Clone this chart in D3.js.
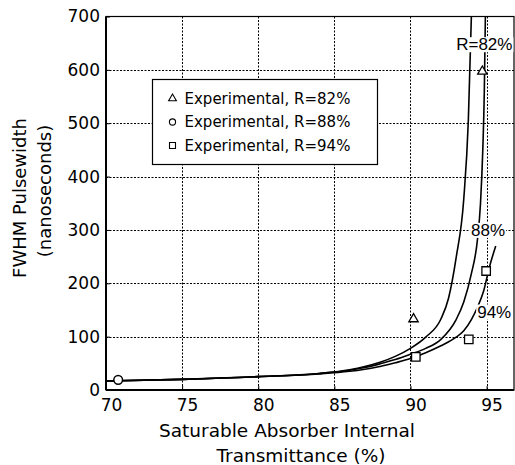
<!DOCTYPE html>
<html>
<head>
<meta charset="utf-8">
<script src="https://cdn.jsdelivr.net/npm/d3@7"></script>
<style>
  body { margin: 0; background: #fff; }
  svg text { font-family: "DejaVu Sans", sans-serif; fill: #000; }
</style>
</head>
<body>
<div id="chart"></div>
<script>

// tick values
let xTicks = [70, 75, 80, 85, 90, 95];
let yTicks = [0, 100, 200, 300, 400, 500, 600, 700];

// model curves
let curve82X = [70, 75, 80, 84, 86, 87, 88, 89, 90, 91, 92, 92.5, 93, 93.5, 93.8, 94.0];
let curve82Y = [17, 20, 25, 31, 38, 44, 52, 63, 78, 99, 133, 172, 248, 358, 505, 700];

let curve88X = [70, 75, 80, 84, 86, 87, 88, 89, 90, 91, 92, 93, 93.5, 94, 94.4, 94.6, 94.75, 94.85, 94.92];
let curve88Y = [17, 20, 25, 31, 37, 42, 49, 57, 67, 78, 95, 132, 165, 218, 282, 350, 450, 560, 700];

let curve94X = [70, 75, 80, 84, 86, 87, 88, 89, 90, 91, 92, 93, 93.5, 94, 94.4, 94.8, 95.2, 95.6];
let curve94Y = [17, 20, 25, 30, 35, 39, 44, 51, 59, 70, 83, 99, 111, 132, 155, 185, 232, 270];

// experimental points
let exp82X = [90.2, 94.72];
let exp82Y = [133, 597];
let exp88X = [70.8];
let exp88Y = [19];
let exp94X = [90.35, 93.83, 94.97];
let exp94Y = [62, 95, 223];

let legendLabels = ["Experimental, R=82%", "Experimental, R=88%", "Experimental, R=94%"];

let svg = d3.select("#chart").append("svg")
    .attr("width", 515)
    .attr("height", 465);

let x = d3.scaleLinear().domain([70, 96.8]).range([106, 514]);
let y = d3.scaleLinear().domain([0, 700]).range([390, 16.5]);

// gridlines (dotted)
let grid = svg.append("g").attr("class", "grid");
grid.selectAll(".vgrid")
    .data(xTicks.slice(1))
    .enter().append("line")
    .attr("x1", d => Math.round(x(d)) + 0.5)
    .attr("x2", d => Math.round(x(d)) + 0.5)
    .attr("y1", y(700))
    .attr("y2", y(0));
grid.selectAll(".hgrid")
    .data(yTicks.slice(1, -1))
    .enter().append("line")
    .attr("x1", x(70))
    .attr("x2", x(96.8))
    .attr("y1", d => Math.round(y(d)) + 0.5)
    .attr("y2", d => Math.round(y(d)) + 0.5);
grid.selectAll("line")
    .attr("stroke", "#000")
    .attr("stroke-width", 1)
    .attr("stroke-dasharray", "2,1.5");

// frame
svg.append("rect")
    .attr("x", 106).attr("y", 16.5)
    .attr("width", 514 - 106).attr("height", 390 - 16.5)
    .attr("fill", "none").attr("stroke", "#000").attr("stroke-width", 1.2);
svg.append("line").attr("x1", 106).attr("x2", 106).attr("y1", 16.5).attr("y2", 390)
    .attr("stroke", "#000").attr("stroke-width", 2);
svg.append("line").attr("x1", 106).attr("x2", 514).attr("y1", 390).attr("y2", 390)
    .attr("stroke", "#000").attr("stroke-width", 2);

// axes
let xAxis = svg.append("g")
    .attr("transform", "translate(0,390)")
    .call(d3.axisBottom(x).tickValues(xTicks).tickSize(-4).tickPadding(9));
xAxis.select(".domain").remove();
xAxis.selectAll("text").attr("dx", 5).style("font-size", "17px");

let yAxis = svg.append("g")
    .attr("transform", "translate(106,0)")
    .call(d3.axisLeft(y).tickValues(yTicks).tickSize(-4).tickPadding(6));
yAxis.select(".domain").remove();
yAxis.selectAll("text").style("font-size", "17px");
yAxis.selectAll("line").attr("stroke", "#000");
xAxis.selectAll("line").attr("stroke", "#000");

// model curves
let line = d3.line()
    .x(d => x(d[0]))
    .y(d => y(d[1]))
    .curve(d3.curveMonotoneX);

let curves = [
    {name: "R=82%", xs: curve82X, ys: curve82Y},
    {name: "88%", xs: curve88X, ys: curve88Y},
    {name: "94%", xs: curve94X, ys: curve94Y}
];
curves.forEach(c => {
    svg.append("path")
        .datum(d3.zip(c.xs, c.ys))
        .attr("fill", "none")
        .attr("stroke", "#000")
        .attr("stroke-width", 1.6)
        .attr("d", line);
});

// curve labels with white backing
let curveLabels = [
    {text: "R=82%", vx: 94.85, vy: 648},
    {text: "88%", vx: 95.1, vy: 300},
    {text: "94%", vx: 95.5, vy: 147}
];
curveLabels.forEach(l => {
    let g = svg.append("g").attr("transform", `translate(${x(l.vx)},${y(l.vy)})`);
    let t = g.append("text")
        .attr("text-anchor", "middle")
        .attr("dy", "0.35em")
        .style("font-family", "'Liberation Sans', Arial, sans-serif")
        .style("font-size", "17px")
        .text(l.text);
    let bb = t.node().getBBox();
    g.insert("rect", "text")
        .attr("x", bb.x - 1).attr("y", bb.y + 2)
        .attr("width", bb.width + 2).attr("height", bb.height - 4)
        .attr("fill", "#fff");
});

// markers
let triangle = d3.symbol().type(d3.symbolTriangle).size(38);
let square = d3.symbol().type(d3.symbolSquare).size(72);
let circle = d3.symbol().type(d3.symbolCircle).size(60);

svg.selectAll(".m82")
    .data(d3.zip(exp82X, exp82Y))
    .enter().append("path")
    .attr("d", triangle)
    .attr("transform", d => `translate(${x(d[0])},${y(d[1])})`)
    .attr("fill", "#fff").attr("stroke", "#000").attr("stroke-width", 1.3);
svg.selectAll(".m88")
    .data(d3.zip(exp88X, exp88Y))
    .enter().append("path")
    .attr("d", circle)
    .attr("transform", d => `translate(${x(d[0])},${y(d[1])})`)
    .attr("fill", "#fff").attr("stroke", "#000").attr("stroke-width", 1.5);
svg.selectAll(".m94")
    .data(d3.zip(exp94X, exp94Y))
    .enter().append("path")
    .attr("d", square)
    .attr("transform", d => `translate(${x(d[0])},${y(d[1])})`)
    .attr("fill", "#fff").attr("stroke", "#000").attr("stroke-width", 1.3);

// legend
let legend = svg.append("g").attr("transform", "translate(152.5,79.5)");
legend.append("rect")
    .attr("width", 225).attr("height", 85)
    .attr("fill", "#fff").attr("stroke", "#000").attr("stroke-width", 1.2);
let legendSymbols = [
    d3.symbol().type(d3.symbolTriangle).size(26),
    d3.symbol().type(d3.symbolCircle).size(30),
    d3.symbol().type(d3.symbolSquare).size(36)
];
legendLabels.forEach((lab, i) => {
    let yy = 19 + i * 23.5;
    legend.append("path")
        .attr("d", legendSymbols[i])
        .attr("transform", `translate(20,${yy})`)
        .attr("fill", "#fff").attr("stroke", "#000").attr("stroke-width", 1.1);
    legend.append("text")
        .attr("x", 32).attr("y", yy)
        .attr("dy", "0.35em")
        .style("font-size", "15px")
        .text(lab);
});

// axis titles
svg.append("text")
    .attr("x", 287).attr("y", 437)
    .attr("text-anchor", "middle")
    .style("font-size", "18.5px")
    .text("Saturable Absorber Internal");
svg.append("text")
    .attr("x", 301).attr("y", 462)
    .attr("text-anchor", "middle")
    .style("font-size", "18.5px")
    .text("Transmittance (%)");

svg.append("text")
    .attr("transform", "translate(26,198) rotate(-90)")
    .attr("text-anchor", "middle")
    .style("font-size", "18px")
    .text("FWHM Pulsewidth");
svg.append("text")
    .attr("transform", "translate(51,191) rotate(-90)")
    .attr("text-anchor", "middle")
    .style("font-size", "18px")
    .text("(nanoseconds)");

</script>
</body>
</html>
